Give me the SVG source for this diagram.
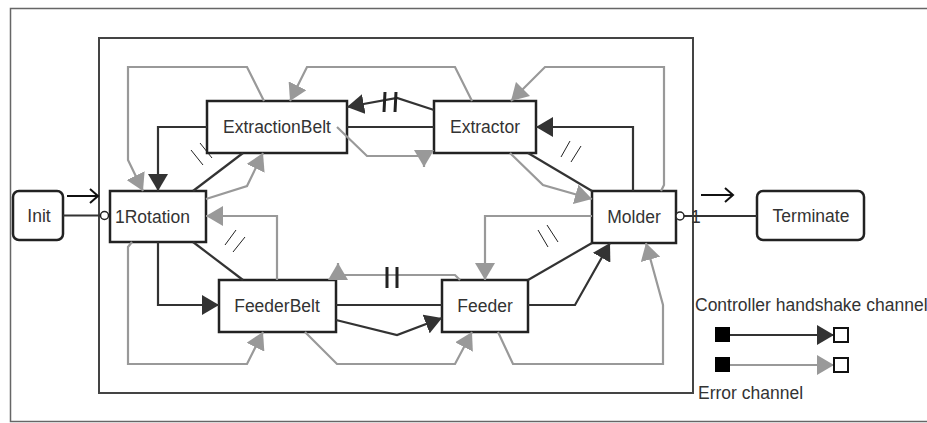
<svg xmlns="http://www.w3.org/2000/svg" width="927" height="423" viewBox="0 0 927 423">
<defs>
<marker id="ahDark" viewBox="0 0 17 20" markerWidth="17" markerHeight="20" refX="17" refY="10" orient="auto" markerUnits="userSpaceOnUse"><path d="M0,0 L17,10 L0,20 z" fill="#333"/></marker>
<marker id="ahGray" viewBox="0 0 17 20" markerWidth="17" markerHeight="20" refX="17" refY="10" orient="auto" markerUnits="userSpaceOnUse"><path d="M0,0 L17,10 L0,20 z" fill="#999"/></marker>
</defs>
<style>
.frame{fill:none;stroke:#666;stroke-width:1.5}
.inner{fill:none;stroke:#444;stroke-width:2}
.node{fill:#fff;stroke:#222;stroke-width:2.5}
.lbl{font-family:"Liberation Sans",Arial,sans-serif;font-size:17.5px;fill:#333}
.hs{fill:none;stroke:#333;stroke-width:2.2}
.hsA{marker-end:url(#ahDark)}
.err{fill:none;stroke:#999;stroke-width:2.2}
.errA{marker-end:url(#ahGray)}
.tick{stroke:#222;stroke-width:1}
.bar{stroke:#222;stroke-width:3}
.port{fill:#fff;stroke:#222;stroke-width:1.5}
.open{fill:none;stroke:#111;stroke-width:2}
</style>
<rect width="927" height="423" fill="#fff"/>
<rect class="frame" x="10.5" y="8.5" width="1000" height="413"/>
<rect class="inner" x="99" y="38" width="594" height="355"/>

<g id="Init"><rect class="node" x="13" y="191" width="50" height="49" rx="6"/><text class="lbl" x="39" y="221.5" text-anchor="middle">Init</text></g>
<g id="Rotation"><rect class="node" x="110" y="191" width="96" height="51"/><text class="lbl" x="115" y="222.5">1Rotation</text></g>
<g id="ExtractionBelt"><rect class="node" x="207" y="101" width="140" height="52"/><text class="lbl" x="277" y="133" text-anchor="middle">ExtractionBelt</text></g>
<g id="Extractor"><rect class="node" x="434" y="101" width="102" height="52"/><text class="lbl" x="485" y="133" text-anchor="middle">Extractor</text></g>
<g id="Molder"><rect class="node" x="592" y="191" width="84" height="52"/><text class="lbl" x="634" y="223" text-anchor="middle">Molder</text></g>
<g id="Terminate"><rect class="node" x="757" y="191" width="107" height="49" rx="6"/><text class="lbl" x="811" y="221.5" text-anchor="middle">Terminate</text></g>
<g id="FeederBelt"><rect class="node" x="219" y="280" width="117" height="52"/><text class="lbl" x="277" y="312" text-anchor="middle">FeederBelt</text></g>
<g id="Feeder"><rect class="node" x="442" y="280" width="86" height="52"/><text class="lbl" x="485" y="312" text-anchor="middle">Feeder</text></g>

<g id="connectors">
<!-- init / terminate -->
<path class="hs" d="M63,215.5 H100"/>
<circle class="port" cx="104.5" cy="215.5" r="4"/>
<path class="open" d="M67,196 H98 M90,189 L98,196 L90,203"/>
<path class="hs" d="M684,216 H757"/>
<circle class="port" cx="680" cy="216" r="4"/>
<text class="lbl" x="691" y="222.5">1</text>
<path class="open" d="M701,195 H733 M725,188 L733,195 L725,202"/>

<!-- handshake channels -->
<path class="hs hsA" d="M207,127 H158 V191"/>
<path class="hs" d="M193,191 L243,153"/>
<path class="hs hsA" d="M434,110 L397,98 L347,107"/>
<path class="hs" d="M347,127 H434"/>
<path class="hs hsA" d="M633,191 V127 H536"/>
<path class="hs" d="M528,153 L592,191"/>
<path class="hs hsA" d="M158,242 V305 H219"/>
<path class="hs" d="M193,242 L243,280"/>
<path class="hs" d="M336,305 H442"/>
<path class="hs hsA" d="M336,320 L397,335 L442,318"/>
<path class="hs" d="M528,280 L592,243"/>
<path class="hs hsA" d="M528,305 H575 L610,243"/>

<!-- error channels -->
<path class="err errA" d="M264,101 L247,67 H128 V160 L143,191"/>
<path class="err errA" d="M472,101 L455,67 H307 L290,101"/>
<path class="err errA" d="M661,191 L664,185 V67 H545 L511,101"/>
<path class="err errA" d="M510,153 L543,185 L592,199"/>
<path class="err errA" d="M206,199 L247,186 L263,153"/>
<path class="err errA" d="M337,127 L367,156 H424 V167"/>
<path class="err errA" d="M132,242 L128,247 V364 H247 L263,332"/>
<path class="err errA" d="M277,280 V216 H206"/>
<path class="err errA" d="M460,280 L455,275 H338 V263"/>
<path class="err errA" d="M305,332 L337,364 H455 L472,332"/>
<path class="err errA" d="M498,332 L513,364 H663 V305 L646,243"/>
<path class="err errA" d="M592,216 H485 V280"/>

<!-- channel marks -->
<path class="tick" d="M191,150 L203,165 M200,143 L212,158"/>
<path class="tick" d="M225,245 L236,230 M233,252 L245,237"/>
<path class="tick" d="M561,157 L570,141 M571,162 L581,146"/>
<path class="tick" d="M538,230 L548,247 M547,225 L558,242"/>
<path class="bar" d="M385,92 L384,112 M396,92 L395,112"/>
<path class="bar" d="M387,267 V288 M397,267 V288"/>
</g>

<g id="legend">
<text class="lbl" x="695" y="311">Controller handshake channel</text>
<rect x="715" y="327" width="15" height="15" fill="#000"/>
<path class="hs hsA" d="M730,335 H834"/>
<rect class="open" x="834" y="328" width="14" height="14" fill="#fff" stroke-width="2.5"/>
<rect x="715" y="357" width="15" height="15" fill="#000"/>
<path class="err errA" d="M730,365 H834"/>
<rect class="open" x="834" y="358" width="14" height="14" fill="#fff" stroke-width="2.5"/>
<text class="lbl" x="698" y="399">Error channel</text>
</g>
</svg>
